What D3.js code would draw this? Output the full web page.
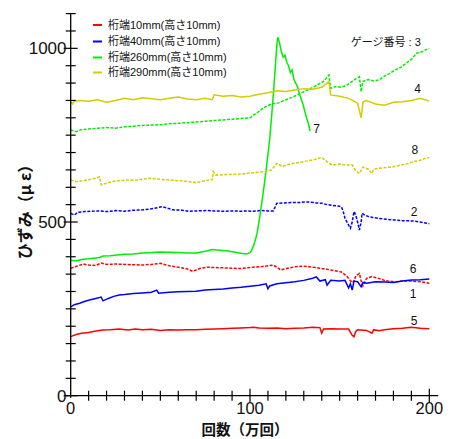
<!DOCTYPE html>
<html>
<head>
<meta charset="utf-8">
<script src="https://cdn.jsdelivr.net/npm/d3@7"></script>
<style>
  body { margin: 0; background: #fff; }
  svg { display: block; }
</style>
</head>
<body>
<div id="chart"></div>
<script>
// legend entries (colour + text)
const legendNames = ["桁端10mm(高さ10mm)", "桁端40mm(高さ10mm)", "桁端260mm(高さ10mm)", "桁端290mm(高さ10mm)"];
const legendColors = ["#ff0000", "#0000ff", "#00ee00", "#d2cc00"];

const xTickLabels = [0, 100, 200];
const yTickLabels = [0, 500, 1000];

// gauge series: [回数(万回), ひずみ]
const gauge1 = [[0,256],[2,262],[5,266],[8,272],[11,276],[14,280],[17,284],[18,273],[21,280],[24,286],[27,290],[30,291],[35,294],[40,296],[45,298],[48,304],[49,295],[55,298],[60,299],[65,300],[70,301],[75,304],[80,306],[85,307],[90,310],[95,312],[100,315],[105,318],[109,322],[110,308],[111,316],[115,322],[120,325],[125,328],[130,332],[135,338],[137,342],[139,330],[142,334],[143,318],[145,332],[150,330],[153,332],[155,310],[156,322],[157,304],[158,330],[160,328],[162,314],[163,326],[165,324],[170,328],[175,327],[180,326],[185,330],[190,333],[195,334],[200,336]];
const gauge2 = [[0,525],[2,520],[4,528],[8,530],[12,531],[16,532],[20,530],[25,533],[30,531],[35,534],[40,535],[45,538],[51,544],[54,540],[57,535],[62,534],[66,531],[71,532],[76,533],[80,532],[85,531],[90,532],[95,531],[98,532],[102,531],[106,533],[110,532],[113,532],[115,554],[119,555],[123,556],[127,556],[131,558],[134,557],[137,555],[140,554],[143,550],[146,548],[149,546],[151,544],[152,530],[153,510],[154.5,496],[156,482],[157,500],[158,530],[159,520],[160,500],[161,477],[162,500],[162.5,525],[164,520],[166,516],[168.5,513],[172,510],[176,508],[180,506],[185,504],[191,503],[195,500],[200,495]];
const gauge3 = [[0,765],[3,760],[6,766],[10,768],[15,770],[20,772],[25,770],[30,774],[35,776],[40,778],[45,779],[50,780],[55,783],[60,784],[65,786],[70,788],[75,790],[80,792],[85,794],[90,796],[95,798],[100,800],[104,815],[108,830],[112,840],[116,843],[120,852],[124,860],[128,870],[132,880],[136,890],[139,899],[141,905],[144,923],[145,885],[148,890],[151,888],[154,894],[157,905],[159,912],[161,918],[162,875],[163,905],[166,910],[169,906],[172,909],[175,920],[178,928],[181,938],[184,945],[187,957],[190,968],[193,986],[196,990],[198,996],[200,1000]];
const gauge4 = [[0,846],[1,840],[2,848],[5,850],[10,848],[15,852],[20,845],[25,850],[30,856],[35,852],[40,858],[45,855],[50,852],[55,856],[60,860],[65,854],[70,852],[75,856],[79,852],[80,866],[85,862],[90,864],[95,860],[100,862],[105,868],[110,872],[115,878],[120,876],[125,880],[130,884],[135,882],[140,888],[144,904],[145,866],[150,862],[155,856],[158,848],[160,842],[162,800],[163,846],[165,850],[170,840],[175,836],[180,845],[185,846],[190,850],[195,856],[200,848]];
const gauge5 = [[0,170],[3,176],[6,180],[10,182],[14,186],[18,189],[22,190],[27,192],[32,189],[36,192],[40,190],[45,191],[50,188],[55,190],[60,189],[65,190],[70,190],[75,191],[80,192],[85,193],[90,194],[95,195],[100,196],[102,197],[105,195],[110,194],[115,195],[120,193],[125,194],[130,195],[135,197],[139,196],[140,180],[141,192],[145,193],[150,192],[155,192],[157,174],[158,170],[159,185],[160,190],[165,188],[168,180],[169,190],[172,187],[175,190],[180,193],[185,194],[190,197],[195,194],[200,193]];
const gauge6 = [[0,367],[3,372],[7,379],[10,376],[14,375],[17,382],[20,378],[25,379],[30,378],[35,377],[40,376],[45,378],[50,381],[55,374],[60,370],[65,365],[68,358],[72,366],[76,370],[80,369],[85,368],[90,367],[95,366],[98,368],[102,370],[107,372],[113,376],[115,370],[117,362],[120,366],[125,371],[129,373],[133,371],[137,369],[140,366],[143,364],[147,360],[151,356],[154,344],[157,325],[158,330],[159,345],[161,352],[162,330],[163,316],[165,338],[168,343],[171,339],[175,332],[180,328],[185,330],[190,330],[195,328],[200,324]];
const gauge7 = [[0,390],[3,388],[6,392],[10,394],[13,396],[16,398],[18,402],[22,403],[26,405],[30,407],[35,408],[40,411],[45,412],[50,414],[55,413],[60,412],[65,411],[70,411],[75,416],[79,421],[83,419],[87,417],[91,414],[95,410],[98,408],[100,412],[101,420],[102,432],[103,448],[104,470],[105,500],[106,535],[107,570],[108,610],[109,650],[110,695],[111,740],[112,800],[113,865],[114,940],[115,1010],[115.5,1032],[116.5,1015],[117.5,990],[118.5,975],[119.5,980],[120.5,960],[121.5,950],[122.5,930],[123.5,938],[124.5,910],[125.5,900],[126.5,890],[127.5,870],[128.5,855],[129.5,840],[130.5,820],[131.5,800],[132.5,785],[133.5,762]];
const gauge8 = [[0,621],[3,616],[6,618],[10,622],[14,626],[16,630],[17,607],[20,612],[25,618],[31,621],[36,620],[40,623],[44,626],[48,624],[52,622],[55,621],[60,619],[65,617],[70,613],[74,618],[79,622],[79.5,645],[81,635],[85,636],[90,637],[95,638],[98,640],[102,642],[106,644],[109,645],[112,650],[115,669],[118,660],[121,665],[124,669],[128,672],[132,676],[136,680],[140,686],[142,678],[144,670],[146,664],[150,667],[154,664],[157,664],[159,648],[161,640],[163,658],[166,652],[168,640],[169,652],[172,655],[176,657],[180,659],[184,664],[188,668],[191,674],[194,676],[197,682],[200,686]];

// gauge number annotations: [text, x, y]
const gaugeLabels = [["4",193.5,884],["7",137.2,768],["8",192,707],["2",191.5,530],["6",191,367],["1",191,295],["5",191.5,217]];

const W = 451, H = 439;
const latinFont = "'Liberation Sans', Arial, sans-serif";
const cjkFont = "'Liberation Sans', 'Noto Sans CJK JP', sans-serif";

const svg = d3.select("#chart").append("svg")
    .attr("width", W)
    .attr("height", H);

const x = d3.scaleLinear().domain([0, 200]).range([70.7, 429.3]);
const y = d3.scaleLinear().domain([0, 1100]).range([395.7, 13.6]);

// series drawing
const series = [
    { data: gauge5, color: legendColors[0], dash: null },
    { data: gauge6, color: legendColors[0], dash: "3,1.5" },
    { data: gauge1, color: legendColors[1], dash: null },
    { data: gauge2, color: legendColors[1], dash: "3,1.5" },
    { data: gauge7, color: legendColors[2], dash: null },
    { data: gauge3, color: legendColors[2], dash: "3,1.5" },
    { data: gauge8, color: legendColors[3], dash: "3,1.5" },
    { data: gauge4, color: legendColors[3], dash: null }
];

const line = d3.line().x(d => x(d[0])).y(d => y(d[1]));

svg.append("g")
    .attr("class", "series")
    .selectAll("path")
    .data(series)
    .enter().append("path")
    .attr("fill", "none")
    .attr("stroke", d => d.color)
    .attr("stroke-width", 1.5)
    .attr("stroke-dasharray", d => d.dash)
    .attr("d", d => line(d.data));

// axes
const yAxis = svg.append("g").attr("class", "y-axis");
yAxis.append("line")
    .attr("x1", x(0)).attr("x2", x(0))
    .attr("y1", y(1100)).attr("y2", y(0) + 2)
    .attr("stroke", "#000").attr("stroke-width", 1.3);
yAxis.selectAll("line.tick")
    .data(d3.range(0, 1101, 50))
    .enter().append("line")
    .attr("class", "tick")
    .attr("x1", d => x(0) - (d % 500 === 0 ? 7 : 5))
    .attr("x2", d => x(0) + (d % 500 === 0 ? 7 : 5))
    .attr("y1", d => y(d)).attr("y2", d => y(d))
    .attr("stroke", "#000").attr("stroke-width", 1.2);
yAxis.selectAll("text")
    .data(yTickLabels)
    .enter().append("text")
    .attr("x", 66.5)
    .attr("y", d => y(d))
    .attr("dy", "0.36em")
    .attr("text-anchor", "end")
    .style("font-family", latinFont)
    .style("font-size", "17px")
    .style("fill", "#111")
    .text(d => d);

const xAxis = svg.append("g").attr("class", "x-axis");
xAxis.append("line")
    .attr("x1", x(0) - 5).attr("x2", x(205))
    .attr("y1", y(0)).attr("y2", y(0))
    .attr("stroke", "#000").attr("stroke-width", 1.2);
xAxis.selectAll("line.tick")
    .data(d3.range(10, 201, 10))
    .enter().append("line")
    .attr("class", "tick")
    .attr("x1", d => x(d)).attr("x2", d => x(d))
    .attr("y1", d => y(0) - (d % 100 === 0 ? 7 : 5))
    .attr("y2", d => y(0) + (d % 100 === 0 ? 7 : 5))
    .attr("stroke", "#000").attr("stroke-width", 1.2);
xAxis.selectAll("text")
    .data(xTickLabels)
    .enter().append("text")
    .attr("x", d => x(d))
    .attr("y", 414)
    .attr("text-anchor", "middle")
    .style("font-family", latinFont)
    .style("font-size", "16.5px")
    .style("fill", "#111")
    .text(d => d);

// axis titles
svg.append("text")
    .attr("x", 245)
    .attr("y", 434.5)
    .attr("text-anchor", "middle")
    .style("font-family", "'Noto Sans CJK JP', sans-serif")
    .style("font-weight", "bold")
    .style("font-size", "14.5px")
    .style("fill", "#111")
    .text("回数（万回）");

svg.append("text")
    .attr("transform", "translate(31,208) rotate(-90)")
    .attr("text-anchor", "middle")
    .style("font-family", "'Noto Sans CJK JP', sans-serif")
    .style("font-weight", "bold")
    .style("font-size", "16px")
    .style("fill", "#111")
    .text("ひずみ（μ ε）");

// legend
const legend = svg.append("g").attr("class", "legend");
const rowsY = [25, 41.5, 57.5, 72.5];
legend.selectAll("line")
    .data(legendNames)
    .enter().append("line")
    .attr("x1", 93).attr("x2", 102)
    .attr("y1", (d, i) => rowsY[i]).attr("y2", (d, i) => rowsY[i])
    .attr("stroke", (d, i) => legendColors[i])
    .attr("stroke-width", 2);
legend.selectAll("text")
    .data(legendNames)
    .enter().append("text")
    .attr("x", 108)
    .attr("y", (d, i) => rowsY[i])
    .attr("dy", "0.36em")
    .style("font-family", cjkFont)
    .style("font-size", "11px")
    .style("fill", "#111")
    .text(d => d);

// gauge numbers
svg.append("text")
    .attr("x", x(156.2))
    .attr("y", y(1019))
    .attr("dy", "0.36em")
    .style("font-family", cjkFont)
    .style("font-size", "11px")
    .style("fill", "#111")
    .text("ゲージ番号 : 3");

svg.append("g")
    .attr("class", "gauge-labels")
    .selectAll("text")
    .data(gaugeLabels)
    .enter().append("text")
    .attr("x", d => x(d[1]))
    .attr("y", d => y(d[2]))
    .attr("dy", "0.36em")
    .attr("text-anchor", "middle")
    .style("font-family", latinFont)
    .style("font-size", "12px")
    .style("fill", "#111")
    .text(d => d[0]);
</script>
</body>
</html>
